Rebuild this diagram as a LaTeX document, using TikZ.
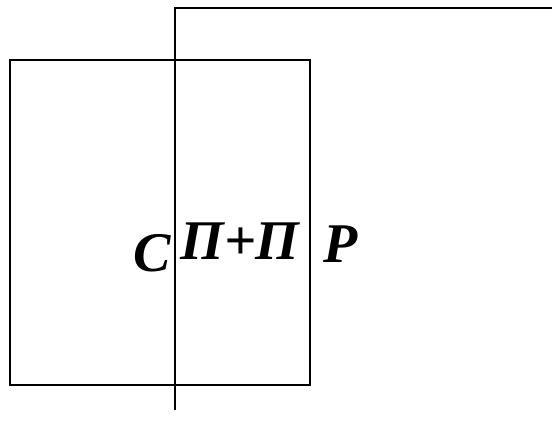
\documentclass[tikz,border=0pt]{standalone}
\usepackage{fontspec}
\setmainfont{Liberation Serif}
\usepackage{tikz}
\usetikzlibrary{positioning, calc}

\begin{document}
\begin{tikzpicture}[
  x=1pt, y=1pt,
  edge/.style={line width=2pt},
  letter/.style={anchor=base, inner sep=0pt, font=\fontsize{56}{60}\selectfont\bfseries\itshape},
]
  \useasboundingbox (0,0) rectangle (552,441);

  % Frame and axis
  \draw[edge] (10,56) rectangle (310,381);
  \coordinate (bot) at (175,31);
  \coordinate (top) at (175,433);
  \coordinate (end) at (552,433);
  \draw[edge] (bot) -- (top) -- (end);

  % Labels
  \node[letter] (c) at (152,169) {C};
  \node[letter] (pp) at (240,181) {П+П};
  \node[letter] (p) at (341,178) {P};
\end{tikzpicture}
\end{document}
